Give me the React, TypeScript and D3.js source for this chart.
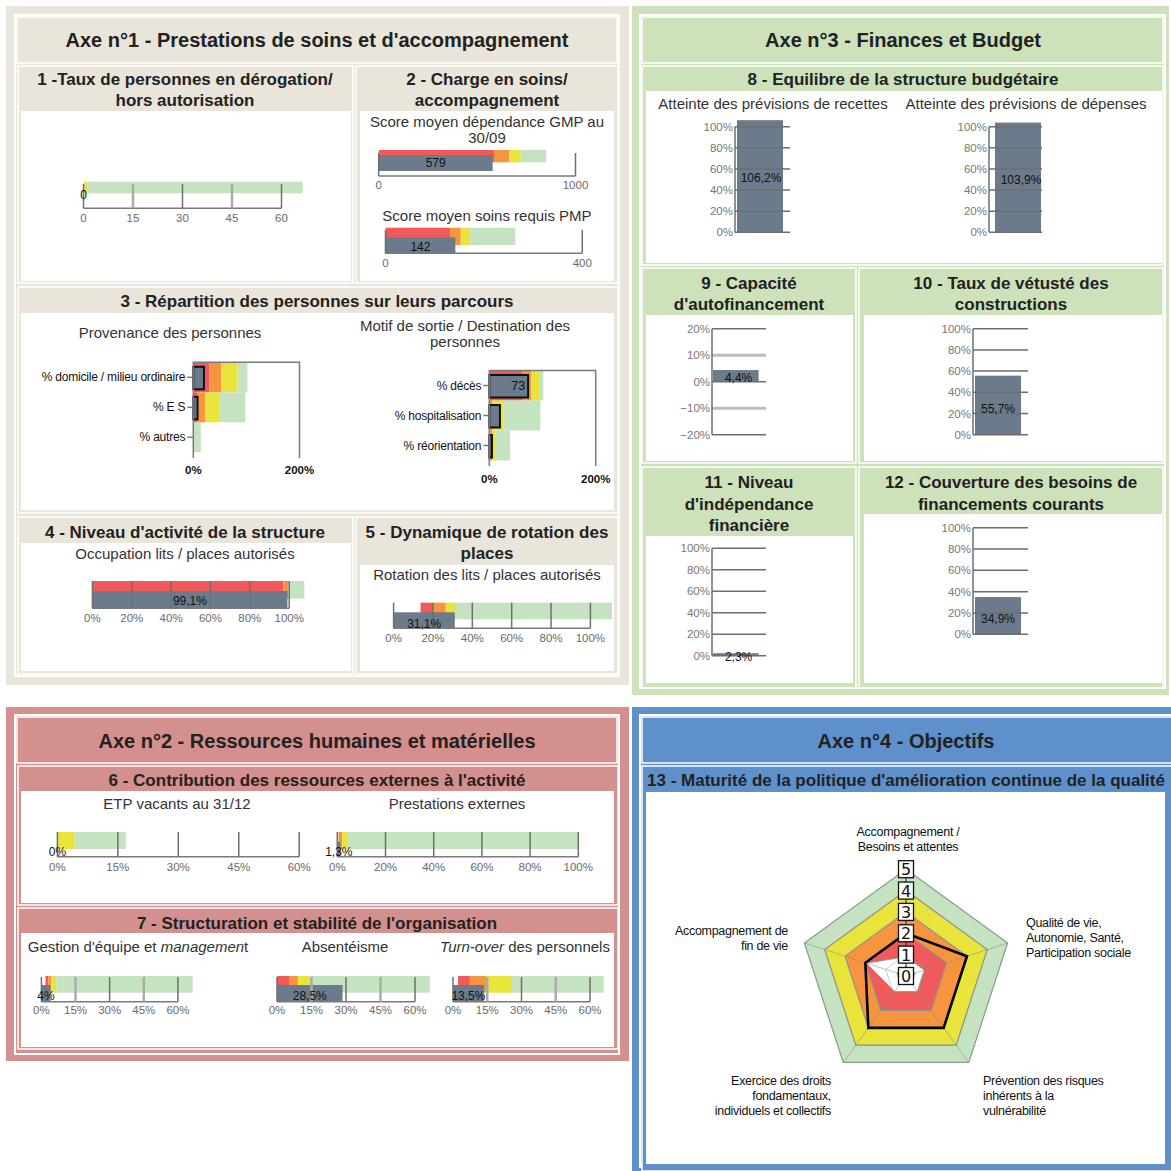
import React from 'react';
import * as d3 from 'd3';

const FONT = "'Liberation Sans', Arial, Helvetica, sans-serif";
const ZONE: Record<string, string> = {
  red: '#f05a5a',
  orange: '#f7953f',
  yellow: '#e8e43c',
  green: '#c5e3c0',
  white: '#ffffff',
};
const BAR = '#6b7b8c';
const BEIGE = '#e9e5db';
const GREENBG = '#cde1bb';
const PINK = '#d48f8f';
const BLUE = '#5e91cc';

type Zone = [string, number, number];

// ---------------- DATA ----------------
// 1 - dérogation
const derogTicks = [0, 15, 30, 45, 60];
const derogTickLabels = ['0', '15', '30', '45', '60'];
const derogZones: Zone[] = [['yellow', 0, 1.1], ['green', 1.1, 66.4]];
const derogValue = 0;
const derogLabel = '0';

// 2 - charge en soins
const gmpTicks = [0, 1000];
const gmpTickLabels = ['0', '1000'];
const gmpZones: Zone[] = [['red', 1, 586], ['orange', 586, 663], ['yellow', 663, 722], ['green', 722, 851]];
const gmpValue = 579;
const gmpLabel = '579';

const pmpTicks = [0, 400];
const pmpTickLabels = ['0', '400'];
const pmpZones: Zone[] = [['red', 0, 131], ['orange', 131, 153], ['yellow', 153, 172], ['green', 172, 264]];
const pmpValue = 142;
const pmpLabel = '142';

// 3 - parcours
const provCats = ['% domicile / milieu ordinaire', '% E S', '% autres'];
const provZones: Zone[][] = [
  [['red', 0, 30], ['orange', 30, 53], ['yellow', 53, 83], ['green', 83, 102]],
  [['red', 0, 7], ['orange', 7, 22], ['yellow', 22, 48.5], ['green', 48.5, 98]],
  [['green', 0, 14]],
];
const provValues = [20, 8, 0];
const provLabels = ['', '', ''];

const destCats = ['% décès', '% hospitalisation', '% réorientation'];
const destZones: Zone[][] = [
  [['red', 0, 61.5], ['orange', 61.5, 79], ['yellow', 79, 93.5], ['green', 93.5, 101.5]],
  [['orange', 0, 6], ['yellow', 6, 26], ['green', 26, 96]],
  [['red', 0, 2], ['orange', 2, 6], ['yellow', 6, 11], ['green', 11, 39]],
];
const destValues = [73, 20, 5];
const destLabels = ['73', '', ''];
const parcoursTicks = [0, 200];
const parcoursTickLabels = ['0%', '200%'];

// 4 - occupation
const pct100Ticks = [0, 20, 40, 60, 80, 100];
const pct100TickLabels = ['0%', '20%', '40%', '60%', '80%', '100%'];
const occupZones: Zone[] = [['red', 0, 97], ['orange', 97, 99.6], ['green', 99.6, 107.7]];
const occupValue = 99.1;
const occupLabel = '99,1%';

// 5 - rotation
const rotZones: Zone[] = [['red', 13.7, 20], ['orange', 20, 26.5], ['yellow', 26.5, 31.2], ['green', 31.2, 111]];
const rotValue = 31.1;
const rotLabel = '31,1%';

// 6 - ressources externes
const pct60Ticks = [0, 15, 30, 45, 60];
const pct60TickLabels = ['0%', '15%', '30%', '45%', '60%'];
const etpZones: Zone[] = [['yellow', 0, 4.3], ['green', 4.3, 17]];
const etpValue = 0;
const etpLabel = '0%';
const prestZones: Zone[] = [['orange', 0.5, 2], ['yellow', 2, 4.4], ['green', 4.4, 100]];
const prestValue = 1.3;
const prestLabel = '1,3%';

// 7 - organisation
const mgmtZones: Zone[] = [['red', 1.8, 3], ['orange', 3, 4.4], ['yellow', 4.4, 6.5], ['green', 6.5, 66.5]];
const mgmtValue = 4;
const mgmtLabel = '4%';
const absZones: Zone[] = [['red', 0, 5.2], ['orange', 5.2, 9.1], ['yellow', 9.1, 13.9], ['green', 13.9, 66.5]];
const absValue = 28.5;
const absLabel = '28,5%';
const turnZones: Zone[] = [['red', 2.2, 7.4], ['orange', 7.4, 14.5], ['yellow', 14.5, 25.4], ['green', 25.4, 66]];
const turnValue = 13.5;
const turnLabel = '13,5%';

// 8..12 - finances
const recettesValue = 106.2;
const recettesLabel = '106,2%';
const depensesValue = 103.9;
const depensesLabel = '103,9%';
const cafTicks = [-20, -10, 0, 10, 20];
const cafTickLabels = ['\u221220%', '\u221210%', '0%', '10%', '20%'];
const cafValue = 4.4;
const cafLabel = '4,4%';
const vetusteValue = 55.7;
const vetusteLabel = '55,7%';
const indepValue = 2.3;
const indepLabel = '2,3%';
const couvValue = 34.9;
const couvLabel = '34,9%';

// 13 - radar
const radarLevels = [0, 1, 2, 3, 4, 5];
const radarZones: [string, number][] = [['green', 5], ['yellow', 4], ['orange', 3], ['red', 2]];
const radarFloor = [0.9, 0.9, 0.9, 0.9, 1.95];
const radarValues = [2, 3, 3, 3, 2];

// ---------------- HELPERS ----------------
function T(p: {
  x: number; y: number; children: React.ReactNode; size?: number; weight?: string | number;
  anchor?: string; fill?: string; ls?: number; family?: string;
}) {
  return (
    <text
      x={p.x}
      y={p.y}
      fontSize={p.size ?? 15}
      fontWeight={p.weight ?? 'normal'}
      textAnchor={(p.anchor ?? 'middle') as any}
      dominantBaseline="central"
      fill={p.fill ?? '#222'}
      fontFamily={p.family ?? FONT}
      letterSpacing={p.ls}
    >
      {p.children}
    </text>
  );
}

function Panel({ r, c, fill }: { r: number[]; c: number[]; fill: string }) {
  return (
    <g>
      <rect x={r[0]} y={r[1]} width={r[2]} height={r[3]} fill={fill} stroke="#fff" strokeWidth={1.5} />
      <rect x={c[0]} y={c[1]} width={c[2]} height={c[3]} fill="#fff" />
    </g>
  );
}

function Bullet(p: {
  x0: number; x1: number; max: number; ticks: number[]; tickLabels: string[];
  zones: Zone[]; value: number; valueLabel: string;
  band: [number, number]; bar: [number, number]; axisY: number; gridTop: number;
  tickLabelY: number; valueLabelY: number; light?: number[];
}) {
  const x = d3.scaleLinear().domain([0, p.max]).range([p.x0, p.x1]);
  const light = p.light ?? [];
  return (
    <g>
      {p.zones.map(([z, a, b], i) => (
        <rect key={i} x={x(a)} y={p.band[0]} width={x(b) - x(a)} height={p.band[1] - p.band[0]} fill={ZONE[z]} />
      ))}
      {p.value > 0 && (
        <rect x={x(0)} y={p.bar[0]} width={x(p.value) - x(0)} height={p.bar[1] - p.bar[0]} fill={BAR} />
      )}
      <line x1={x(0)} x2={x(p.max)} y1={p.axisY} y2={p.axisY} stroke="#7a7a7a" strokeWidth={1.5} />
      {p.ticks.map((t) => {
        const lt = light.includes(t);
        return (
          <line key={t} x1={x(t)} x2={x(t)} y1={p.gridTop} y2={p.axisY}
            stroke={lt ? '#a8adaa' : '#6f6f6f'} strokeWidth={lt ? 2.5 : 1.5} />
        );
      })}
      {p.ticks.map((t, i) => (
        <T key={t} x={x(t)} y={p.tickLabelY} size={11.5} fill="#6a6a6a">{p.tickLabels[i]}</T>
      ))}
      <T x={(x(0) + x(p.value)) / 2} y={p.valueLabelY} size={12} fill="#111">{p.valueLabel}</T>
    </g>
  );
}

function CatBullet(p: {
  cats: string[]; zones: Zone[][]; values: number[]; labels: string[];
  left: number; right: number; top: number; bottom: number; frameBottom: number;
  tickLabelY: number; ticks: number[]; tickLabels: string[];
}) {
  const x = d3.scaleLinear().domain([0, 200]).range([p.left, p.right]);
  const y = d3.scaleBand<string>().domain(p.cats).range([p.top, p.bottom]);
  const bw = y.bandwidth();
  return (
    <g>
      {p.cats.map((c, i) => (
        <g key={c}>
          {p.zones[i].map(([z, a, b], j) => (
            <rect key={j} x={x(a)} y={y(c)!} width={x(b) - x(a)} height={bw} fill={ZONE[z]} />
          ))}
          {p.values[i] > 0 && (
            <rect x={x(0)} y={y(c)! + 4.5} width={x(p.values[i]) - x(0)} height={bw - 7.5}
              fill={BAR} stroke="#111" strokeWidth={2} />
          )}
          {p.labels[i] && (
            <T x={x(p.values[i]) - 3} y={y(c)! + bw / 2} anchor="end" size={12.5} fill="#111">{p.labels[i]}</T>
          )}
          <line x1={p.left - 6} x2={p.left} y1={y(c)! + bw / 2} y2={y(c)! + bw / 2} stroke="#7a7a7a" strokeWidth={1.5} />
          <T x={p.left - 8} y={y(c)! + bw / 2} anchor="end" size={12} fill="#111" ls={-0.2}>{c}</T>
        </g>
      ))}
      <path d={`M${p.left},${p.frameBottom}V${p.top}H${p.right}V${p.frameBottom}`} fill="none" stroke="#7a7a7a" strokeWidth={1.5} />
      {p.ticks.map((t, i) => (
        <T key={t} x={x(t)} y={p.tickLabelY} size={11.5} fill="#111" weight="bold">{p.tickLabels[i]}</T>
      ))}
    </g>
  );
}

function VBar(p: {
  axisX: number; gridX1: number; barX0: number; barX1: number; yTop: number; yBottom: number;
  domain: [number, number]; ticks: number[]; tickLabels: string[]; light?: number[];
  value: number; label: string; labelX: number; labelY: number;
}) {
  const y = d3.scaleLinear().domain(p.domain).range([p.yBottom, p.yTop]);
  const light = p.light ?? [];
  const y0 = y(Math.max(0, p.domain[0]));
  const yv = y(p.value);
  return (
    <g>
      <rect x={p.barX0} y={Math.min(y0, yv)} width={p.barX1 - p.barX0} height={Math.abs(yv - y0)} fill={BAR} />
      {p.ticks.map((t) => {
        const lt = light.includes(t);
        return (
          <line key={t} x1={p.axisX} x2={p.gridX1} y1={y(t)} y2={y(t)}
            stroke={lt ? '#bdbdbd' : '#6e6e6e'} strokeWidth={lt ? 3 : 1.5} />
        );
      })}
      <line x1={p.axisX} x2={p.axisX} y1={y(p.domain[1])} y2={y(p.domain[0])} stroke="#6e6e6e" strokeWidth={1.5} />
      {p.ticks.map((t, i) => (
        <T key={t} x={p.axisX - 2} y={y(t)} anchor="end" size={11.5} fill="#777">{p.tickLabels[i]}</T>
      ))}
      <T x={p.labelX} y={p.labelY} size={12} fill="#111">{p.label}</T>
    </g>
  );
}

function Radar() {
  const cx = 906;
  const cy = 976;
  const r = d3.scaleLinear().domain([0, 5]).range([0, 106.8]);
  const n = radarValues.length;
  const ang = (i: number) => -Math.PI / 2 + (i * 2 * Math.PI) / n;
  const pt = (i: number, v: number): [number, number] => [cx + r(v) * Math.cos(ang(i)), cy + r(v) * Math.sin(ang(i))];
  const poly = (vals: number[]) => (d3.line()(vals.map((v, i) => pt(i, v))) ?? '') + 'Z';
  const lvl = (l: number) => poly(radarValues.map(() => l));
  return (
    <g>
      {radarZones.map(([z, l]) => (
        <path key={z} d={lvl(l)} fill={ZONE[z]} stroke={z === 'green' ? '#8cae90' : '#9a9a8a'} strokeWidth={1.2} />
      ))}
      <path d={poly(radarFloor)} fill="#fff" stroke="#9a9a9a" strokeWidth={1} />
      {radarLevels.slice(1).map((l) => (
        <path key={l} d={lvl(l)} fill="none" stroke="#8a8a8a" strokeOpacity={0.45} strokeWidth={1} />
      ))}
      <path d={lvl(0.45)} fill="none" stroke="#9a9a9a" strokeWidth={1} />
      {radarValues.map((_, i) => {
        const [x, y] = pt(i, 5);
        return <line key={i} x1={cx} y1={cy} x2={x} y2={y} stroke={i === 0 ? '#222' : '#8a8a8a'} strokeOpacity={i === 0 ? 1 : 0.55} strokeWidth={1} />;
      })}
      <path d={poly(radarValues)} fill="none" stroke="#000" strokeWidth={2.6} strokeLinejoin="miter" />
      {radarLevels.map((l) => {
        const [x, y] = pt(0, l);
        return (
          <g key={l}>
            <rect x={x - 7.5} y={y - 8.5} width={15} height={17} fill="#fff" stroke="#111" strokeWidth={1.3} />
            <T x={x} y={y + 0.5} size={16} fill="#111" family="'DejaVu Sans', sans-serif">{String(l)}</T>
          </g>
        );
      })}
    </g>
  );
}

// ---------------- APP ----------------
export default function App() {
  const RL = { size: 12.5, fill: '#111', ls: -0.3 };
  return (
    <svg width={1171} height={1171} style={{ position: 'absolute', left: 0, top: 0 }} fontFamily={FONT}>
      <rect width={1171} height={1171} fill="#fff" />

      {/* ========== AXE 1 ========== */}
      <rect x={6} y={6} width={623} height={679} fill={BEIGE} />
      <rect x={15} y={15} width={604} height={661} fill="none" stroke="#fff" strokeWidth={2} />
      <rect x={17} y={17} width={600} height={46} fill={BEIGE} stroke="#fff" strokeWidth={1.5} />
      <T x={317} y={40} size={20} weight="bold">Axe n°1 - Prestations de soins et d'accompagnement</T>
      <Panel r={[18, 66, 335, 217]} c={[21, 111, 330, 170]} fill={BEIGE} />
      <Panel r={[356, 66, 262, 217]} c={[360, 111, 254, 170]} fill={BEIGE} />
      <Panel r={[18, 287, 600, 226]} c={[21, 313, 593, 197]} fill={BEIGE} />
      <Panel r={[18, 517, 335, 157]} c={[21, 543, 330, 128]} fill={BEIGE} />
      <Panel r={[356, 517, 262, 157]} c={[360, 565, 254, 106]} fill={BEIGE} />

      <T x={185} y={79} size={17} weight="bold">1 -Taux de personnes en dérogation/</T>
      <T x={185} y={100} size={17} weight="bold">hors autorisation</T>
      <Bullet x0={83.5} x1={281.5} max={60} ticks={derogTicks} tickLabels={derogTickLabels}
        zones={derogZones} value={derogValue} valueLabel={derogLabel}
        band={[181.7, 193.3]} bar={[186, 203]} axisY={208.3} gridTop={184} tickLabelY={217.5}
        valueLabelY={195} light={[15, 45]} />

      <T x={487} y={79} size={17} weight="bold">2 - Charge en soins/</T>
      <T x={487} y={100} size={17} weight="bold">accompagnement</T>
      <T x={487} y={121} size={15} fill="#333">Score moyen dépendance GMP au</T>
      <T x={487} y={137} size={15} fill="#333">30/09</T>
      <Bullet x0={378.7} x1={575.5} max={1000} ticks={gmpTicks} tickLabels={gmpTickLabels}
        zones={gmpZones} value={gmpValue} valueLabel={gmpLabel}
        band={[150, 162.3]} bar={[155, 171]} axisY={176} gridTop={153} tickLabelY={185}
        valueLabelY={163} />
      <T x={487} y={215} size={15} fill="#333">Score moyen soins requis PMP</T>
      <Bullet x0={385.5} x1={582.3} max={400} ticks={pmpTicks} tickLabels={pmpTickLabels}
        zones={pmpZones} value={pmpValue} valueLabel={pmpLabel}
        band={[227.7, 245]} bar={[237.3, 253.3]} axisY={253.3} gridTop={230} tickLabelY={262.5}
        valueLabelY={246.5} />

      <T x={317} y={301} size={17} weight="bold">3 - Répartition des personnes sur leurs parcours</T>
      <T x={170} y={332} size={15} fill="#333">Provenance des personnes</T>
      <T x={465} y={325} size={15} fill="#333">Motif de sortie / Destination des</T>
      <T x={465} y={341} size={15} fill="#333">personnes</T>
      <CatBullet cats={provCats} zones={provZones} values={provValues} labels={provLabels}
        left={193.3} right={299.5} top={362.3} bottom={452.3} frameBottom={458}
        tickLabelY={470} ticks={parcoursTicks} tickLabels={parcoursTickLabels} />
      <CatBullet cats={destCats} zones={destZones} values={destValues} labels={destLabels}
        left={489.3} right={595.7} top={370.5} bottom={460.5} frameBottom={466}
        tickLabelY={478.5} ticks={parcoursTicks} tickLabels={parcoursTickLabels} />

      <T x={185} y={532} size={17} weight="bold">4 - Niveau d'activité de la structure</T>
      <T x={185} y={553} size={15} fill="#333">Occupation lits / places autorisés</T>
      <Bullet x0={92.4} x1={289.2} max={100} ticks={pct100Ticks} tickLabels={pct100TickLabels}
        zones={occupZones} value={occupValue} valueLabel={occupLabel}
        band={[581, 598.7]} bar={[591, 608.3]} axisY={608.3} gridTop={581} tickLabelY={617.5}
        valueLabelY={601} />

      <T x={487} y={532} size={17} weight="bold">5 - Dynamique de rotation des</T>
      <T x={487} y={553} size={17} weight="bold">places</T>
      <T x={487} y={574} size={15} fill="#333">Rotation des lits / places autorisés</T>
      <Bullet x0={393.6} x1={590.4} max={100} ticks={pct100Ticks} tickLabels={pct100TickLabels}
        zones={rotZones} value={rotValue} valueLabel={rotLabel}
        band={[602.7, 619.3]} bar={[612.3, 628.3]} axisY={628.3} gridTop={602.7} tickLabelY={638}
        valueLabelY={623.5} />

      {/* ========== AXE 3 ========== */}
      <rect x={632} y={6} width={537} height={689} fill={GREENBG} />
      <rect x={640} y={15} width={525} height={673} fill="none" stroke="#fff" strokeWidth={2} />
      <rect x={642} y={17} width={521} height={46} fill={GREENBG} stroke="#fff" strokeWidth={1.5} />
      <T x={903} y={40} size={20} weight="bold">Axe n°3 - Finances et Budget</T>
      <Panel r={[642, 66, 521, 199]} c={[646, 91, 516, 172]} fill={GREENBG} />
      <Panel r={[642, 268, 214, 195]} c={[646, 315, 207, 146]} fill={GREENBG} />
      <Panel r={[859, 268, 304, 195]} c={[864, 315, 298, 146]} fill={GREENBG} />
      <Panel r={[642, 467, 214, 221]} c={[646, 536, 207, 147]} fill={GREENBG} />
      <Panel r={[859, 467, 304, 221]} c={[864, 514, 298, 169]} fill={GREENBG} />

      <T x={903} y={79} size={17} weight="bold">8 - Equilibre de la structure budgétaire</T>
      <T x={773} y={103} size={15} fill="#333">Atteinte des prévisions de recettes</T>
      <T x={1026} y={103} size={15} fill="#333">Atteinte des prévisions de dépenses</T>
      <VBar axisX={735} gridX1={790} barX0={737} barX1={783} yTop={126.7} yBottom={232.3}
        domain={[0, 100]} ticks={pct100Ticks} tickLabels={pct100TickLabels}
        value={recettesValue} label={recettesLabel} labelX={761} labelY={178} />
      <VBar axisX={989} gridX1={1042} barX0={995} barX1={1041} yTop={126.7} yBottom={232.3}
        domain={[0, 100]} ticks={pct100Ticks} tickLabels={pct100TickLabels}
        value={depensesValue} label={depensesLabel} labelX={1021} labelY={180} />

      <T x={749} y={283} size={17} weight="bold">9 - Capacité</T>
      <T x={749} y={304} size={17} weight="bold">d'autofinancement</T>
      <VBar axisX={712} gridX1={766} barX0={713} barX1={758.6} yTop={328.7} yBottom={434.7}
        domain={[-20, 20]} ticks={cafTicks} tickLabels={cafTickLabels} light={[-10, 10]}
        value={cafValue} label={cafLabel} labelX={738.6} labelY={377.5} />

      <T x={1011} y={283} size={17} weight="bold">10 - Taux de vétusté des</T>
      <T x={1011} y={304} size={17} weight="bold">constructions</T>
      <VBar axisX={973} gridX1={1028} barX0={975} barX1={1021} yTop={328.7} yBottom={434.7}
        domain={[0, 100]} ticks={pct100Ticks} tickLabels={pct100TickLabels}
        value={vetusteValue} label={vetusteLabel} labelX={998} labelY={408.5} />

      <T x={749} y={482} size={17} weight="bold">11 - Niveau</T>
      <T x={749} y={504} size={17} weight="bold">d'indépendance</T>
      <T x={749} y={525} size={17} weight="bold">financière</T>
      <VBar axisX={712} gridX1={766} barX0={713} barX1={758.6} yTop={548.3} yBottom={655.7}
        domain={[0, 100]} ticks={pct100Ticks} tickLabels={pct100TickLabels}
        value={indepValue} label={indepLabel} labelX={738.6} labelY={657} />

      <T x={1011} y={482} size={17} weight="bold">12 - Couverture des besoins de</T>
      <T x={1011} y={504} size={17} weight="bold">financements courants</T>
      <VBar axisX={973} gridX1={1028} barX0={975} barX1={1021} yTop={527.7} yBottom={634.3}
        domain={[0, 100]} ticks={pct100Ticks} tickLabels={pct100TickLabels}
        value={couvValue} label={couvLabel} labelX={998} labelY={619} />

      {/* ========== AXE 2 ========== */}
      <rect x={6} y={707} width={623} height={354} fill={PINK} />
      <rect x={15} y={715} width={604} height={339} fill="none" stroke="#fff" strokeWidth={2} />
      <rect x={17} y={717} width={600} height={46} fill={PINK} stroke="#fff" strokeWidth={1.5} />
      <T x={317} y={741} size={20} weight="bold">Axe n°2 - Ressources humaines et matérielles</T>
      <Panel r={[18, 766, 600, 139]} c={[21, 791, 593, 112]} fill={PINK} />
      <Panel r={[18, 908, 600, 141]} c={[21, 933, 593, 114]} fill={PINK} />

      <T x={317} y={780} size={17} weight="bold">6 - Contribution des ressources externes à l'activité</T>
      <T x={177} y={803} size={15} fill="#333">ETP vacants au 31/12</T>
      <T x={457} y={803} size={15} fill="#333">Prestations externes</T>
      <Bullet x0={57.4} x1={299.2} max={60} ticks={pct60Ticks} tickLabels={pct60TickLabels}
        zones={etpZones} value={etpValue} valueLabel={etpLabel}
        band={[832, 849]} bar={[841.7, 856.7]} axisY={856.7} gridTop={832} tickLabelY={867}
        valueLabelY={852} />
      <Bullet x0={337.3} x1={578.3} max={100} ticks={pct100Ticks} tickLabels={pct100TickLabels}
        zones={prestZones} value={prestValue} valueLabel={prestLabel}
        band={[832, 849]} bar={[841.7, 856.7]} axisY={856.7} gridTop={832} tickLabelY={867}
        valueLabelY={852} />

      <T x={317} y={923} size={17} weight="bold">7 - Structuration et stabilité de l'organisation</T>
      <text x={138} y={946} fontSize={15} textAnchor="middle" dominantBaseline="central" fill="#333" fontFamily={FONT}>
        Gestion d'équipe et <tspan fontStyle="italic">managemen</tspan>t
      </text>
      <T x={345} y={946} size={15} fill="#333">Absentéisme</T>
      <text x={525} y={946} fontSize={15} textAnchor="middle" dominantBaseline="central" fill="#333" fontFamily={FONT}>
        <tspan fontStyle="italic">Turn-over</tspan> des personnels
      </text>
      <Bullet x0={41.4} x1={177.9} max={60} ticks={pct60Ticks} tickLabels={pct60TickLabels}
        zones={mgmtZones} value={mgmtValue} valueLabel={mgmtLabel}
        band={[976, 992.7]} bar={[985, 1001.7]} axisY={1001.7} gridTop={977} tickLabelY={1010}
        valueLabelY={995.5} light={[15, 45]} />
      <Bullet x0={277} x1={415} max={60} ticks={pct60Ticks} tickLabels={pct60TickLabels}
        zones={absZones} value={absValue} valueLabel={absLabel}
        band={[976, 992.7]} bar={[985, 1001.7]} axisY={1001.7} gridTop={977} tickLabelY={1010}
        valueLabelY={995.5} light={[15, 45]} />
      <Bullet x0={453} x1={590} max={60} ticks={pct60Ticks} tickLabels={pct60TickLabels}
        zones={turnZones} value={turnValue} valueLabel={turnLabel}
        band={[976, 992.7]} bar={[985, 1001.7]} axisY={1001.7} gridTop={977} tickLabelY={1010}
        valueLabelY={995.5} light={[15, 45]} />

      {/* ========== AXE 4 ========== */}
      <rect x={632} y={707} width={539} height={464} fill={BLUE} />
      <rect x={640} y={715} width={535} height={452} fill="none" stroke="#fff" strokeWidth={2} />
      <rect x={642} y={717} width={535} height={46} fill={BLUE} stroke="#fff" strokeWidth={1.5} />
      <T x={906} y={741} size={20} weight="bold">Axe n°4 - Objectifs</T>
      <Panel r={[642, 766, 535, 405]} c={[646, 792, 519, 372]} fill={BLUE} />
      <T x={906} y={780} size={17} weight="bold">13 - Maturité de la politique d'amélioration continue de la qualité</T>
      <Radar />
      <T x={908} y={832} {...RL}>Accompagnement /</T>
      <T x={908} y={847} {...RL}>Besoins et attentes</T>
      <T x={1026} y={923} anchor="start" {...RL}>Qualité de vie,</T>
      <T x={1026} y={938} anchor="start" {...RL}>Autonomie, Santé,</T>
      <T x={1026} y={953} anchor="start" {...RL}>Participation sociale</T>
      <T x={983} y={1081} anchor="start" {...RL}>Prévention des risques</T>
      <T x={983} y={1096} anchor="start" {...RL}>inhérents à la</T>
      <T x={983} y={1111} anchor="start" {...RL}>vulnérabilité</T>
      <T x={831} y={1081} anchor="end" {...RL}>Exercice des droits</T>
      <T x={831} y={1096} anchor="end" {...RL}>fondamentaux,</T>
      <T x={831} y={1111} anchor="end" {...RL}>individuels et collectifs</T>
      <T x={788} y={931} anchor="end" {...RL}>Accompagnement de</T>
      <T x={788} y={946} anchor="end" {...RL}>fin de vie</T>
    </svg>
  );
}
